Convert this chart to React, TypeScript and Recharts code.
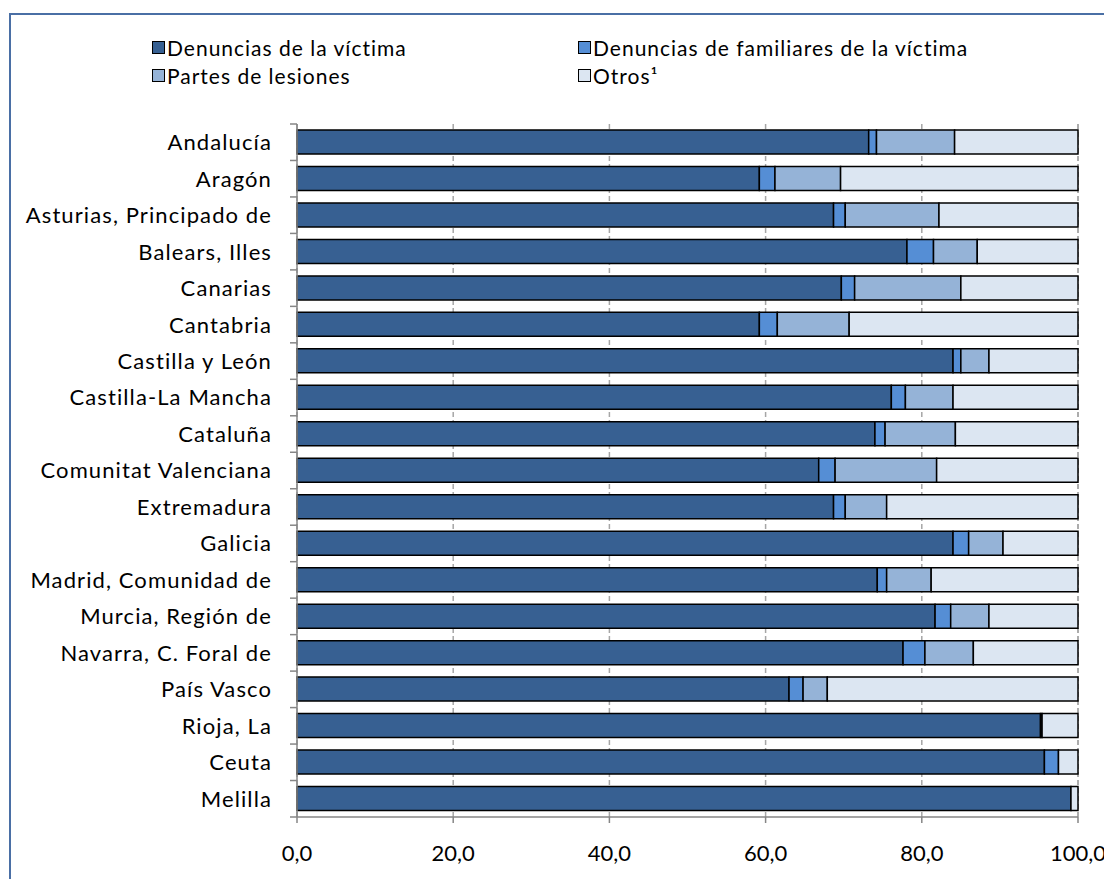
import React from "react";
import { BarChart, Bar, XAxis, YAxis, CartesianGrid, Legend } from "recharts";

const regions = [
  "Andalucía",
  "Aragón",
  "Asturias, Principado de",
  "Balears, Illes",
  "Canarias",
  "Cantabria",
  "Castilla y León",
  "Castilla-La Mancha",
  "Cataluña",
  "Comunitat Valenciana",
  "Extremadura",
  "Galicia",
  "Madrid, Comunidad de",
  "Murcia, Región de",
  "Navarra, C. Foral de",
  "País Vasco",
  "Rioja, La",
  "Ceuta",
  "Melilla",
];

const victima = [73.2, 59.2, 68.7, 78.1, 69.7, 59.2, 84.0, 76.1, 74.0, 66.8, 68.7, 84.0, 74.3, 81.7, 77.6, 63.0, 95.2, 95.7, 99.1];
const familiares = [1.0, 2.0, 1.5, 3.4, 1.7, 2.3, 1.0, 1.8, 1.3, 2.1, 1.5, 2.0, 1.2, 2.0, 2.8, 1.8, 0.2, 1.8, 0.0];
const partes = [10.0, 8.4, 12.0, 5.6, 13.6, 9.2, 3.6, 6.1, 9.0, 13.0, 5.3, 4.4, 5.7, 4.9, 6.2, 3.1, 0.0, 0.0, 0.0];
const otros = [15.8, 30.4, 17.8, 12.9, 15.0, 29.3, 11.4, 16.0, 15.7, 18.1, 24.5, 9.6, 18.8, 11.4, 13.4, 32.1, 4.6, 2.5, 0.9];

const seriesNames = [
  "Denuncias de la víctima",
  "Denuncias de familiares de la víctima",
  "Partes de lesiones",
  "Otros¹",
];

const xTicks = [0, 20, 40, 60, 80, 100];

const data = regions.map((region, i) => ({
  region,
  victima: victima[i],
  familiares: familiares[i],
  partes: partes[i],
  otros: otros[i],
}));

const FONT = "Lato, 'Open Sans', sans-serif";
const AXIS = "#868686";
const PLOT_TOP = 109;
const PLOT_H = 693;
const BAND = PLOT_H / regions.length;

const RegionTick = (props: any) => {
  const { x, y, payload, index } = props;
  const axisX = x + 25;
  const last = index === regions.length - 1;
  return (
    <g>
      <text x={x} y={y} dy="0.36em" textAnchor="end" fill="#000" fontSize={22} letterSpacing={1.1} fontFamily={FONT}>
        {payload.value}
      </text>
      <line x1={axisX - 7} x2={axisX} y1={y - BAND / 2} y2={y - BAND / 2} stroke={AXIS} strokeWidth={1.5} />
      {last && (
        <line x1={axisX - 7} x2={axisX} y1={y + BAND / 2} y2={y + BAND / 2} stroke={AXIS} strokeWidth={1.5} />
      )}
    </g>
  );
};

const LegendBox = (props: any) => {
  const items = [...(props.payload || [])].sort(
    (a: any, b: any) => seriesNames.indexOf(a.value) - seriesNames.indexOf(b.value)
  );
  return (
    <div
      style={{
        display: "grid",
        gridTemplateColumns: "426px 426px",
        gridAutoRows: "28px",
        fontFamily: FONT,
        fontSize: 21,
        letterSpacing: 1,
        color: "#000",
      }}
    >
      {items.map((it: any) => (
        <div key={it.value} style={{ display: "flex", alignItems: "center" }}>
          <span
            style={{
              display: "inline-block",
              width: 11,
              height: 11,
              background: it.color,
              border: "1px solid #000",
              marginRight: 2,
            }}
          />
          <span>{it.value}</span>
        </div>
      ))}
    </div>
  );
};

export default function App() {
  return (
    <div
      style={{
        marginTop: 5,
        marginLeft: 1,
        width: 1094,
        height: 866,
        border: "2px solid #4a6fa5",
        position: "relative",
      }}
    >
      <BarChart
        width={1094}
        height={866}
        data={data}
        layout="vertical"
        barSize={24}
        margin={{ top: PLOT_TOP, right: 27, bottom: 34, left: 0 }}
        style={{ overflow: "visible" }}
      >
        <CartesianGrid horizontal={false} stroke="#a6a6a6" strokeDasharray="5 3" strokeWidth={1.5} />
        <XAxis
          type="number"
          domain={[0, 100]}
          ticks={xTicks}
          height={30}
          tickSize={6}
          tickMargin={22}
          tickFormatter={(v: number) => v.toFixed(1).replace(".", ",")}
          tick={{ fill: "#000", fontSize: 22, fontFamily: FONT }}
          stroke={AXIS}
          strokeWidth={1.5}
        />
        <YAxis
          type="category"
          dataKey="region"
          width={286}
          tickSize={7}
          tickMargin={18}
          tickLine={false}
          interval={0}
          tick={<RegionTick />}
          stroke={AXIS}
          strokeWidth={1.5}
        />
        <Legend
          verticalAlign="middle"
          align="center"
          content={<LegendBox />}
          wrapperStyle={{ top: 18, left: 141, width: 900 }}
        />
        <Bar dataKey="victima" name={seriesNames[0]} stackId="a" fill="#376092" stroke="#000" strokeWidth={1.5} isAnimationActive={false} />
        <Bar dataKey="familiares" name={seriesNames[1]} stackId="a" fill="#558ed5" stroke="#000" strokeWidth={1.5} isAnimationActive={false} />
        <Bar dataKey="partes" name={seriesNames[2]} stackId="a" fill="#95b3d7" stroke="#000" strokeWidth={1.5} isAnimationActive={false} />
        <Bar dataKey="otros" name={seriesNames[3]} stackId="a" fill="#dce6f2" stroke="#000" strokeWidth={1.5} isAnimationActive={false} />
      </BarChart>
    </div>
  );
}
